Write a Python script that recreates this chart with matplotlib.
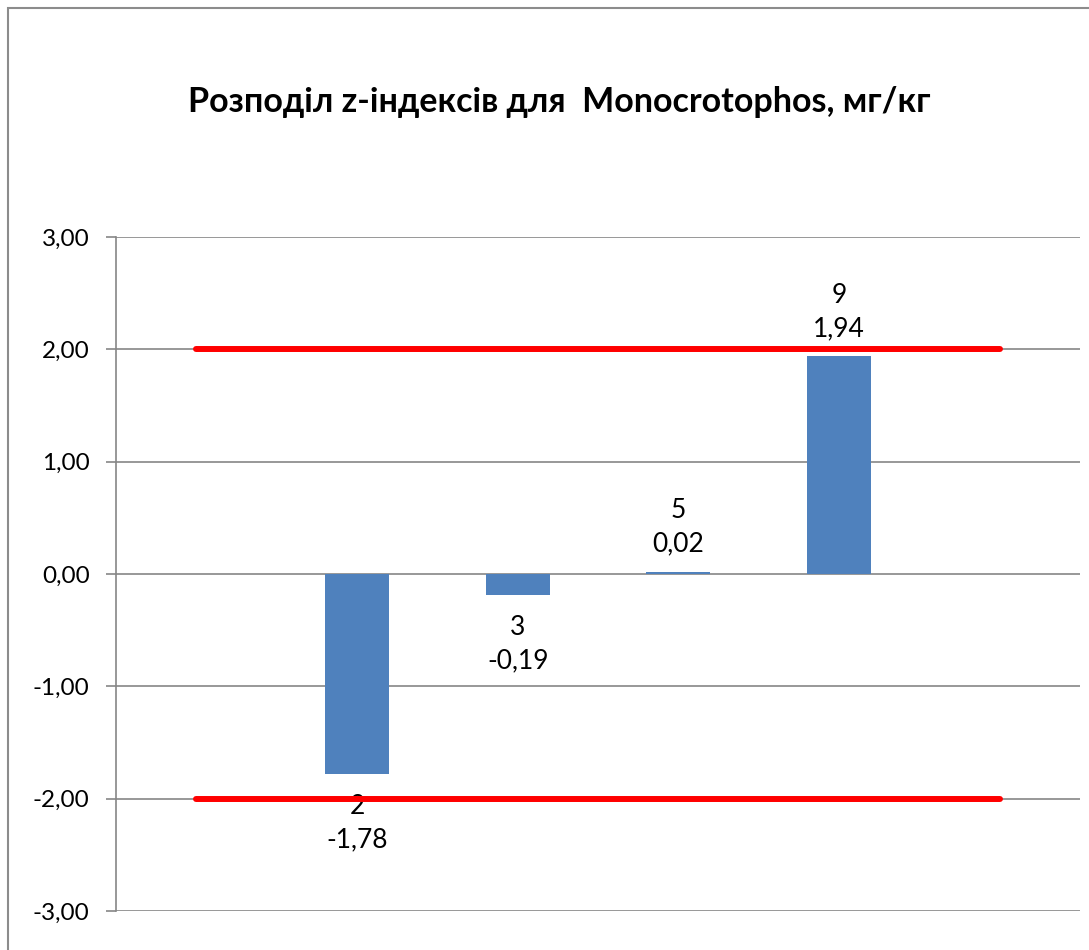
import numpy as np
import matplotlib.pyplot as plt
from matplotlib.patches import Rectangle

# дані
kategorii = ["", "2", "3", "5", "9", ""]
z_indeksy = [np.nan, -1.78, -0.19, 0.02, 1.94, np.nan]
verhnia_mezha = [2, 2, 2, 2, 2, 2]
nyzhnia_mezha = [-2, -2, -2, -2, -2, -2]
y_ticks = [-3, -2, -1, 0, 1, 2, 3]

plt.rcParams['font.family'] = ['Lato', 'DejaVu Sans']

fig = plt.figure(figsize=(10.89, 9.5), dpi=100)
ax = fig.add_axes([116/1089, 1 - 911/950, 964/1089, (911 - 237)/950])

# рамка навколо діаграми
fig.patches.append(Rectangle((8/1089, -0.1), 1.2, 1 - 8/950 + 0.1, transform=fig.transFigure,
                             fill=False, edgecolor="#8c8c8c", linewidth=1.5))

x = np.arange(len(kategorii))
ax.bar(x, z_indeksy, width=0.4, color="#4F81BD", zorder=2)
ax.plot(x, verhnia_mezha, color="#ff0000", linewidth=4.3, solid_capstyle="round", zorder=4)
ax.plot(x, nyzhnia_mezha, color="#ff0000", linewidth=4.3, solid_capstyle="round", zorder=4)

# підписи стовпців
for xi, val, kod in zip(x, z_indeksy, kategorii):
    if np.isnan(val):
        continue
    tekst = f"{kod}\n{val:.2f}".replace(".", ",")
    if val >= 0:
        ax.annotate(tekst, (xi, val), xytext=(0, 15), textcoords="offset pixels",
                    ha="center", va="bottom", fontsize=19, linespacing=1.42, zorder=3)
    else:
        ax.annotate(tekst, (xi, val), xytext=(0, -20), textcoords="offset pixels",
                    ha="center", va="top", fontsize=19, linespacing=1.42, zorder=3)

ax.set_xlim(-0.5, len(kategorii) - 0.5)
ax.set_ylim(-3, 3)
ax.set_yticks(y_ticks)
ax.set_yticklabels([f"{t:.2f}".replace(".", ",") for t in y_ticks], fontsize=17.5)
ax.set_xticks([])
ax.grid(axis="y", color="#868686", linewidth=1.2, zorder=0)
ax.set_axisbelow(True)
for s in ["top", "right", "bottom"]:
    ax.spines[s].set_visible(False)
ax.spines["left"].set_color("#868686")
ax.spines["left"].set_linewidth(1.2)
ax.tick_params(axis="y", length=7, width=1.2, color="#868686", pad=12)

fig.text(559/1089, 1 - 102/950, "Розподіл z-індексів для  Monocrotophos, мг/кг",
         ha="center", va="center", fontsize=24.5, fontweight="bold")

plt.savefig("out.png", dpi=100)
